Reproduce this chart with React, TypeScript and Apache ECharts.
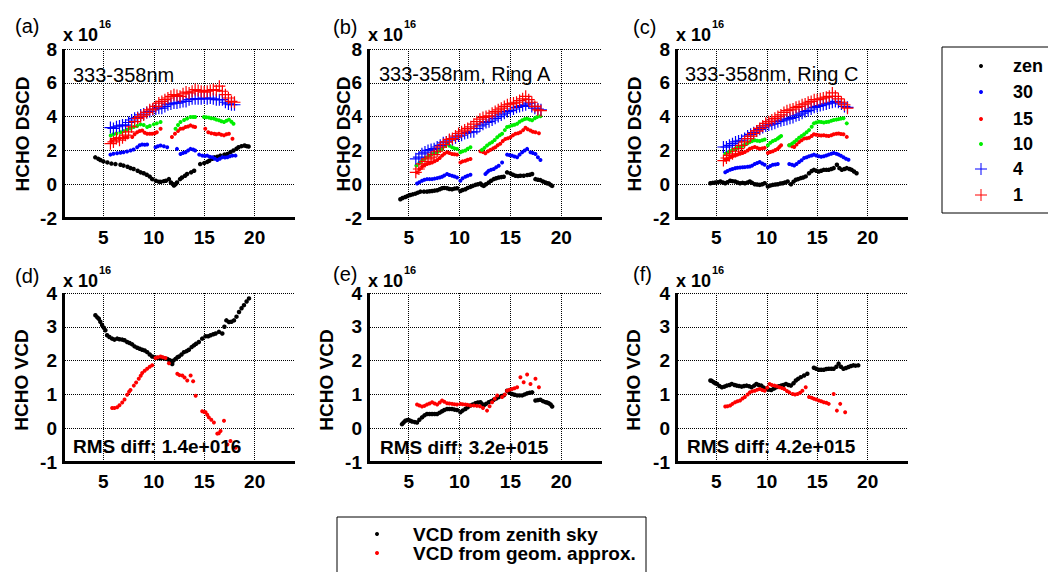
import React, { useEffect, useRef } from 'react';
import * as echarts from 'echarts';

// ---------- data (units of 1e16 molec/cm2, x = hour of day) ----------
const X_MIN = 1;
const X_MAX = 24;
const DSCD_MIN = -2, DSCD_MAX = 8, DSCD_STEP = 2;
const VCD_MIN = -1, VCD_MAX = 4, VCD_STEP = 1;

const legendNames = ['zen', '30', '15', '10', '4', '1'];
const vcdLegendNames = ['VCD from zenith sky', 'VCD from geom. approx.'];
const panelTags = ['(a)', '(b)', '(c)', '(d)', '(e)', '(f)'];
const dscdTitles = ['333-358nm', '333-358nm, Ring A', '333-358nm, Ring C'];
const rmsTexts = ['RMS diff: 1.4e+016', 'RMS diff: 3.2e+015', 'RMS diff: 4.2e+015'];

// panel (a)
const aZen = [[4.2,1.59],[4.5,1.5],[4.7,1.43],[5.0,1.35],[5.4,1.29],[5.8,1.22],[6.2,1.19],[6.7,1.15],[7.0,1.1],[7.4,1.03],[7.7,0.95],[8.0,0.9],[8.4,0.8],[8.7,0.7],[9.0,0.65],[9.3,0.56],[9.6,0.45],[9.85,0.3],[10.2,0.2],[10.5,0.15],[10.7,0.14],[11.0,0.18],[11.2,0.2],[11.5,0.3],[11.7,0.1],[11.85,0.02],[12.0,-0.08],[12.15,0.0],[12.3,0.1],[12.6,0.3],[12.8,0.4],[13.1,0.5],[13.3,0.6],[13.7,0.7],[14.0,0.8],[14.6,1.19],[15.0,1.25],[15.3,1.32],[15.5,1.39],[15.8,1.5],[16.0,1.59],[16.3,1.62],[16.6,1.69],[17.0,1.75],[17.3,1.79],[17.6,1.9],[17.9,1.99],[18.2,2.1],[18.4,2.19],[18.7,2.25],[19.0,2.29],[19.2,2.25],[19.4,2.23]];
const a30 = [[5.7,1.75],[6.0,1.8],[6.36,1.83],[6.7,1.86],[7.0,1.89],[7.35,1.93],[7.7,1.99],[8.0,2.05],[8.35,2.19],[8.6,2.3],[8.85,2.35],[9.1,2.33],[9.34,2.35],[10.17,2.19],[10.4,2.25],[10.67,2.29],[11.0,2.25],[11.33,2.19],[12.3,2.09],[12.65,1.79],[12.9,1.85],[13.15,1.89],[13.4,2.0],[13.64,2.09],[13.9,2.05],[14.1,1.99],[14.5,1.75],[14.8,1.69],[15.05,1.67],[15.3,1.69],[15.55,1.62],[15.8,1.59],[16.05,1.5],[16.3,1.43],[16.55,1.5],[16.8,1.59],[17.05,1.58],[17.3,1.59],[17.55,1.65],[17.8,1.69],[18.1,1.69]];
const a15 = [[5.8,2.55],[6.2,2.69],[6.6,2.72],[7.0,2.75],[7.4,2.77],[7.86,2.79],[8.1,2.95],[8.35,3.08],[8.6,3.15],[8.85,3.18],[9.1,3.05],[9.34,2.99],[9.6,2.98],[9.84,2.99],[10.1,3.02],[10.3,3.08],[10.67,3.28],[11.8,2.79],[12.1,2.99],[12.4,3.15],[12.65,3.28],[12.9,3.3],[13.15,3.38],[13.4,3.42],[13.64,3.48],[13.9,3.42],[14.1,3.38],[15.1,3.28],[15.4,3.08],[15.7,3.02],[16.0,2.99],[16.2,2.95],[16.46,2.99],[16.7,2.93],[16.96,2.89],[17.2,2.95],[17.45,2.99],[17.8,2.69]];
const a10 = [[5.73,2.88],[6.0,2.95],[6.3,3.0],[6.7,3.08],[7.0,3.15],[7.36,3.22],[7.7,3.3],[8.0,3.38],[8.35,3.45],[8.68,3.54],[9.0,3.5],[9.34,3.38],[9.6,3.45],[10.0,3.54],[10.3,3.6],[10.67,3.68],[12.16,3.28],[12.4,3.5],[12.65,3.68],[13.0,3.8],[13.3,3.88],[13.64,3.98],[13.9,3.98],[14.1,3.98],[14.97,3.98],[15.2,3.96],[15.47,3.94],[15.7,3.9],[15.97,3.88],[16.2,3.82],[16.46,3.78],[16.7,3.72],[16.96,3.68],[17.2,3.75],[17.45,3.82],[17.7,3.7],[17.9,3.58]];
const a4 = [[5.7,3.35],[6.0,3.3],[6.3,3.4],[6.6,3.45],[6.9,3.5],[7.2,3.5],[7.5,3.65],[7.8,3.8],[8.1,3.9],[8.4,3.95],[8.7,4.1],[9.0,4.15],[9.3,4.25],[9.6,4.3],[9.9,4.4],[10.2,4.45],[10.5,4.5],[10.8,4.5],[11.1,4.6],[11.4,4.7],[11.7,4.75],[12.0,4.8],[12.3,4.8],[12.6,4.85],[12.9,4.9],[13.2,4.9],[13.5,5.0],[13.8,5.05],[14.1,5.05],[14.4,5.05],[14.7,5.05],[15.0,5.1],[15.3,5.05],[15.6,5.1],[15.9,5.05],[16.2,5.0],[16.5,5.0],[16.8,5.0],[17.1,4.85],[17.4,4.75],[17.7,4.7],[18.0,4.7]];
const a1 = [[5.7,2.4],[6.0,2.5],[6.3,2.7],[6.6,2.6],[6.9,2.75],[7.2,2.9],[7.5,3.1],[7.8,3.4],[8.1,3.7],[8.4,3.9],[8.7,4.0],[9.0,4.1],[9.3,4.25],[9.6,4.4],[9.9,4.45],[10.2,4.6],[10.5,4.8],[10.8,4.9],[11.1,5.0],[11.4,5.1],[11.7,5.2],[12.0,5.3],[12.3,5.25],[12.6,5.2],[12.9,5.35],[13.2,5.45],[13.5,5.4],[13.8,5.5],[14.1,5.6],[14.4,5.55],[14.7,5.5],[15.0,5.45],[15.3,5.5],[15.6,5.55],[15.9,5.6],[16.2,5.55],[16.5,5.8],[16.8,5.5],[17.1,5.3],[17.4,5.1],[17.7,4.9],[18.0,4.85]];

// panel (b)
const bZen = [[4.18,-0.89],[4.4,-0.82],[4.67,-0.76],[4.9,-0.7],[5.16,-0.64],[5.4,-0.6],[5.66,-0.56],[5.9,-0.5],[6.15,-0.44],[6.5,-0.44],[6.8,-0.44],[7.05,-0.42],[7.3,-0.4],[7.55,-0.38],[7.8,-0.36],[8.05,-0.3],[8.28,-0.24],[8.5,-0.22],[8.77,-0.24],[9.0,-0.28],[9.26,-0.3],[9.5,-0.26],[9.75,-0.24],[10.08,-0.4],[10.3,-0.34],[10.57,-0.3],[10.8,-0.22],[11.07,-0.16],[11.3,-0.1],[11.56,-0.04],[11.8,0.0],[12.05,0.04],[12.2,-0.05],[12.38,-0.1],[12.6,0.0],[12.87,0.1],[13.1,0.2],[13.36,0.3],[13.6,0.35],[13.85,0.4],[14.1,0.42],[14.34,0.44],[14.67,0.7],[15.0,0.64],[15.25,0.56],[15.5,0.5],[15.75,0.48],[15.98,0.5],[16.3,0.5],[16.64,0.54],[16.9,0.56],[17.13,0.6],[17.46,0.3],[17.7,0.26],[17.95,0.24],[18.2,0.16],[18.44,0.1],[18.6,0.06],[18.77,0.04],[18.95,-0.04],[19.1,-0.1]];
const b30 = [[5.82,0.04],[6.05,0.12],[6.31,0.2],[6.55,0.26],[6.8,0.3],[7.05,0.3],[7.3,0.3],[7.55,0.33],[7.8,0.36],[8.05,0.4],[8.28,0.44],[8.5,0.52],[8.77,0.6],[9.0,0.55],[9.26,0.5],[9.5,0.45],[9.75,0.4],[10.08,0.2],[10.3,0.35],[10.57,0.44],[10.8,0.5],[11.07,0.56],[12.54,0.6],[12.7,0.7],[12.87,0.8],[13.1,0.85],[13.36,0.9],[13.6,1.0],[13.85,1.09],[14.18,1.29],[14.67,1.75],[14.9,1.72],[15.16,1.69],[15.4,1.64],[15.66,1.59],[15.9,1.75],[16.15,1.89],[16.4,2.0],[16.64,2.09],[16.97,1.89],[17.2,1.85],[17.46,1.79],[17.7,1.6],[17.95,1.43]];
const b15 = [[5.82,0.7],[6.05,0.88],[6.31,1.03],[6.55,1.12],[6.8,1.19],[7.05,1.24],[7.3,1.29],[7.55,1.36],[7.8,1.43],[8.05,1.55],[8.28,1.69],[8.5,1.8],[8.77,1.89],[9.0,1.85],[9.26,1.79],[9.5,1.77],[9.75,1.75],[10.08,1.29],[10.3,1.35],[10.57,1.39],[10.8,1.45],[11.07,1.49],[12.05,1.95],[12.3,1.9],[12.54,1.83],[12.8,1.95],[13.03,2.03],[13.3,2.12],[13.52,2.19],[13.75,2.3],[14.0,2.39],[14.25,2.55],[14.5,2.68],[14.75,2.72],[15.0,2.78],[15.25,2.9],[15.5,2.98],[15.75,3.02],[15.98,3.08],[16.25,3.2],[16.48,3.34],[16.7,3.25],[16.97,3.18],[17.2,3.1],[17.46,3.08],[17.8,3.02]];
const b10 = [[5.75,1.1],[6.05,1.25],[6.31,1.39],[6.55,1.5],[6.8,1.59],[7.05,1.7],[7.3,1.79],[7.55,1.85],[7.8,1.89],[8.05,2.0],[8.28,2.09],[8.5,2.25],[8.77,2.39],[9.0,2.28],[9.26,2.19],[9.5,2.12],[9.75,2.09],[10.08,1.89],[10.3,1.95],[10.57,1.99],[10.8,2.1],[11.07,2.19],[12.2,2.03],[12.45,2.15],[12.7,2.29],[12.95,2.4],[13.2,2.49],[13.45,2.62],[13.7,2.78],[13.95,2.9],[14.18,2.98],[14.45,3.2],[14.67,3.38],[14.9,3.42],[15.16,3.48],[15.4,3.52],[15.66,3.58],[15.9,3.7],[16.15,3.78],[16.4,3.85],[16.64,3.88],[16.9,3.82],[17.13,3.78],[17.4,3.9],[17.62,3.98],[17.95,4.02]];
const b4 = [[5.7,1.5],[6.0,1.6],[6.3,1.8],[6.6,1.9],[6.9,2.0],[7.2,2.05],[7.5,2.1],[7.8,2.2],[8.1,2.3],[8.4,2.45],[8.7,2.5],[9.0,2.6],[9.3,2.65],[9.6,2.75],[9.9,2.85],[10.2,2.9],[10.5,3.0],[10.8,3.05],[11.1,3.1],[11.4,3.1],[11.7,3.3],[12.0,3.45],[12.3,3.55],[12.6,3.65],[12.9,3.7],[13.2,3.8],[13.5,3.9],[13.8,4.0],[14.1,4.1],[14.4,4.2],[14.7,4.3],[15.0,4.35],[15.3,4.45],[15.6,4.55],[15.9,4.6],[16.2,4.65],[16.5,4.7],[16.8,4.8],[17.1,4.6],[17.4,4.5],[17.7,4.45],[18.0,4.4]];
const b1 = [[5.7,0.7],[6.0,0.9],[6.3,1.2],[6.6,1.35],[6.9,1.5],[7.2,1.6],[7.5,1.75],[7.8,1.95],[8.1,2.2],[8.4,2.35],[8.7,2.5],[9.0,2.65],[9.3,2.7],[9.6,2.85],[9.9,3.0],[10.2,3.1],[10.5,3.2],[10.8,3.3],[11.1,3.4],[11.4,3.55],[11.7,3.7],[12.0,3.85],[12.3,3.95],[12.6,4.0],[12.9,4.05],[13.2,4.2],[13.5,4.3],[13.8,4.4],[14.1,4.5],[14.4,4.6],[14.7,4.7],[15.0,4.75],[15.3,4.8],[15.6,4.85],[15.9,4.95],[16.2,5.05],[16.5,5.2],[16.8,5.0],[17.1,4.85],[17.4,4.6],[17.7,4.4],[18.0,4.35]];

// panel (c)
const cZen = [[4.41,0.06],[4.65,0.08],[4.9,0.1],[5.15,0.12],[5.4,0.16],[5.65,0.1],[5.88,0.06],[6.1,0.12],[6.37,0.2],[6.6,0.18],[6.86,0.16],[7.1,0.1],[7.35,0.06],[7.6,0.08],[7.83,0.06],[8.1,0.1],[8.32,0.16],[8.55,0.08],[8.81,0.0],[9.05,-0.02],[9.3,-0.04],[9.55,0.0],[9.79,0.06],[10.11,-0.14],[10.35,-0.08],[10.6,-0.04],[10.85,-0.02],[11.09,0.0],[11.35,0.04],[11.58,0.06],[11.8,0.1],[12.07,0.16],[12.4,0.0],[12.65,0.15],[12.88,0.26],[13.1,0.3],[13.37,0.36],[13.6,0.4],[13.86,0.46],[14.19,0.65],[14.45,0.78],[14.67,0.85],[14.9,0.8],[15.16,0.75],[15.4,0.8],[15.65,0.85],[15.9,0.85],[16.14,0.85],[16.4,0.9],[16.63,0.95],[16.95,1.15],[17.2,0.95],[17.44,0.85],[17.7,0.9],[17.93,0.95],[18.2,0.9],[18.42,0.85],[18.65,0.75],[18.9,0.65]];
const c30 = [[5.88,0.71],[6.1,0.78],[6.37,0.85],[6.6,0.9],[6.86,0.95],[7.1,0.97],[7.35,0.99],[7.6,1.0],[7.83,1.01],[8.1,1.03],[8.32,1.05],[8.55,1.1],[8.81,1.19],[9.05,1.25],[9.3,1.31],[9.55,1.22],[9.79,1.15],[10.11,0.99],[10.35,1.08],[10.6,1.15],[10.85,1.17],[11.09,1.19],[12.23,1.19],[12.5,1.15],[12.72,1.11],[12.95,1.2],[13.2,1.31],[13.45,1.42],[13.7,1.55],[13.95,1.6],[14.19,1.65],[14.45,1.7],[14.67,1.75],[14.9,1.7],[15.16,1.65],[15.4,1.63],[15.65,1.65],[15.9,1.7],[16.14,1.75],[16.4,1.8],[16.63,1.85],[16.9,1.8],[17.12,1.75],[17.35,1.68],[17.6,1.59],[17.85,1.5],[18.1,1.45]];
const c15 = [[5.88,1.45],[6.1,1.52],[6.37,1.6],[6.6,1.65],[6.86,1.7],[7.1,1.75],[7.35,1.8],[7.6,1.85],[7.83,1.9],[8.1,2.0],[8.32,2.1],[8.55,2.15],[8.81,2.2],[9.05,2.15],[9.3,2.1],[9.55,2.12],[9.79,2.15],[10.11,1.85],[10.35,1.9],[10.6,1.95],[10.85,2.02],[11.09,2.1],[11.25,2.2],[11.42,2.3],[12.23,2.3],[12.5,2.25],[12.72,2.2],[12.95,2.35],[13.2,2.5],[13.45,2.6],[13.7,2.7],[13.95,2.72],[14.19,2.75],[14.45,2.85],[14.67,2.95],[14.9,2.92],[15.16,2.9],[15.4,2.88],[15.65,2.9],[15.9,2.87],[16.14,2.85],[16.4,2.9],[16.63,2.95],[16.9,2.98],[17.12,3.0],[17.35,2.97],[17.6,2.95],[17.93,2.8]];
const c10 = [[5.88,1.8],[6.1,1.88],[6.37,1.95],[6.6,2.02],[6.86,2.1],[7.1,2.15],[7.35,2.2],[7.6,2.28],[7.83,2.35],[8.1,2.42],[8.32,2.5],[8.55,2.55],[8.81,2.6],[9.05,2.57],[9.3,2.55],[9.55,2.6],[9.79,2.65],[10.11,2.3],[10.35,2.45],[10.6,2.55],[10.85,2.62],[11.09,2.7],[11.25,2.78],[11.42,2.85],[12.23,2.3],[12.5,2.4],[12.72,2.5],[12.95,2.62],[13.2,2.75],[13.45,2.85],[13.7,2.95],[13.95,3.08],[14.19,3.2],[14.45,3.4],[14.67,3.6],[14.9,3.65],[15.16,3.7],[15.4,3.68],[15.65,3.65],[15.9,3.68],[16.14,3.7],[16.4,3.75],[16.63,3.8],[16.9,3.82],[17.12,3.85],[17.35,3.88],[17.6,3.9],[17.93,3.6]];
const c4 = [[5.7,2.2],[6.0,2.2],[6.3,2.3],[6.6,2.4],[6.9,2.5],[7.2,2.55],[7.5,2.6],[7.8,2.7],[8.1,2.85],[8.4,2.95],[8.7,3.05],[9.0,3.15],[9.3,3.25],[9.6,3.35],[9.9,3.45],[10.2,3.5],[10.5,3.55],[10.8,3.6],[11.1,3.7],[11.4,3.75],[11.7,3.8],[12.0,3.85],[12.3,3.9],[12.6,3.95],[12.9,4.05],[13.2,4.1],[13.5,4.2],[13.8,4.3],[14.1,4.35],[14.4,4.45],[14.7,4.55],[15.0,4.6],[15.3,4.65],[15.6,4.7],[15.9,4.75],[16.2,4.8],[16.5,4.85],[16.8,4.9],[17.1,4.85],[17.4,4.75],[17.7,4.6],[18.0,4.55]];
const c1 = [[5.7,1.4],[6.0,1.55],[6.3,1.7],[6.6,1.8],[6.9,1.95],[7.2,2.1],[7.5,2.3],[7.8,2.5],[8.1,2.7],[8.4,2.85],[8.7,3.0],[9.0,3.15],[9.3,3.3],[9.6,3.45],[9.9,3.6],[10.2,3.7],[10.5,3.8],[10.8,3.9],[11.1,4.0],[11.4,4.1],[11.7,4.25],[12.0,4.35],[12.3,4.4],[12.6,4.45],[12.9,4.55],[13.2,4.6],[13.5,4.7],[13.8,4.75],[14.1,4.85],[14.4,4.9],[14.7,5.0],[15.0,5.0],[15.3,5.05],[15.6,5.1],[15.9,5.15],[16.2,5.2],[16.5,5.4],[16.8,5.2],[17.1,5.05],[17.4,4.85],[17.7,4.7],[18.0,4.5]];

// panel (d)
const dZen = [[4.21,3.34],[4.4,3.28],[4.55,3.24],[4.7,3.15],[4.87,3.05],[5.05,2.97],[5.2,2.9],[5.37,2.75],[5.6,2.7],[5.87,2.65],[6.1,2.62],[6.37,2.65],[6.6,2.63],[6.87,2.62],[7.1,2.6],[7.36,2.55],[7.6,2.52],[7.86,2.48],[8.1,2.42],[8.36,2.38],[8.6,2.35],[8.85,2.32],[9.1,2.3],[9.35,2.25],[9.6,2.18],[9.84,2.12],[10.1,2.1],[10.34,2.08],[10.6,2.07],[10.83,2.08],[11.1,2.06],[11.33,2.05],[11.5,2.02],[11.66,2.0],[11.75,1.95],[11.83,1.9],[11.95,2.0],[12.16,2.05],[12.35,2.1],[12.5,2.12],[12.75,2.18],[12.99,2.25],[13.25,2.28],[13.48,2.32],[13.75,2.4],[13.98,2.45],[14.2,2.5],[14.47,2.55],[14.8,2.65],[15.13,2.72],[15.4,2.72],[15.63,2.75],[15.9,2.78],[16.13,2.8],[16.46,2.85],[16.79,2.8],[17.0,3.0],[17.2,3.19],[17.45,3.14],[17.7,3.15],[17.95,3.19],[18.2,3.3],[18.45,3.44],[18.7,3.55],[18.94,3.64],[19.2,3.75],[19.44,3.84]];
const dGeo = [[5.87,0.6],[6.1,0.6],[6.37,0.62],[6.6,0.68],[6.87,0.76],[7.1,0.85],[7.36,0.99],[7.55,1.08],[7.69,1.13],[8.02,1.26],[8.25,1.35],[8.51,1.46],[8.7,1.55],[8.85,1.63],[9.1,1.7],[9.34,1.76],[9.6,1.82],[9.84,1.86],[10.17,2.08],[10.4,2.1],[10.67,2.12],[10.9,2.1],[11.16,2.08],[11.5,1.92],[12.33,1.61],[12.55,1.57],[12.83,1.56],[13.05,1.5],[13.32,1.41],[13.65,1.56],[13.9,1.39],[14.15,0.96],[14.8,0.5],[15.0,0.48],[15.13,0.47],[15.3,0.4],[15.46,0.32],[15.7,0.25],[15.96,0.17],[16.29,-0.16],[16.45,-0.15],[16.62,-0.08],[16.96,0.22],[17.3,-0.48],[17.6,-0.38],[18.1,-0.58]];

// panel (e)
const eZen = [[4.34,0.12],[4.5,0.17],[4.67,0.22],[4.85,0.24],[5.0,0.24],[5.15,0.22],[5.33,0.2],[5.6,0.18],[5.82,0.17],[6.05,0.25],[6.31,0.32],[6.55,0.38],[6.8,0.42],[7.05,0.42],[7.3,0.42],[7.55,0.42],[7.8,0.42],[8.05,0.46],[8.28,0.5],[8.5,0.54],[8.77,0.57],[9.0,0.57],[9.26,0.57],[9.5,0.55],[9.75,0.54],[10.08,0.47],[10.3,0.52],[10.57,0.57],[10.8,0.62],[11.07,0.67],[11.3,0.7],[11.56,0.74],[11.8,0.76],[12.05,0.77],[12.2,0.72],[12.38,0.67],[12.6,0.72],[12.87,0.77],[13.1,0.8],[13.36,0.84],[13.6,0.88],[13.85,0.92],[14.1,0.95],[14.34,0.97],[14.67,1.11],[14.9,1.05],[15.16,1.01],[15.4,0.99],[15.66,0.97],[15.9,0.97],[16.15,0.97],[16.4,1.0],[16.64,1.03],[16.9,1.05],[17.13,1.06],[17.46,0.82],[17.7,0.83],[17.95,0.84],[18.2,0.8],[18.44,0.77],[18.6,0.76],[18.77,0.74],[18.95,0.7],[19.1,0.64]];
const eGeo = [[5.82,0.7],[6.05,0.67],[6.31,0.64],[6.55,0.66],[6.8,0.7],[7.05,0.73],[7.3,0.77],[7.55,0.73],[7.8,0.7],[8.05,0.76],[8.28,0.82],[8.5,0.78],[8.77,0.74],[9.0,0.73],[9.26,0.72],[9.5,0.71],[9.75,0.7],[10.08,0.72],[10.3,0.71],[10.57,0.7],[10.8,0.69],[11.07,0.67],[11.4,0.67],[11.7,0.66],[12.0,0.65],[12.3,0.6],[12.7,0.52],[12.95,0.65],[13.2,0.77],[13.45,0.87],[13.7,0.97],[14.18,0.92],[14.45,1.0],[14.67,1.11],[14.9,1.14],[15.16,1.16],[15.4,1.18],[15.66,1.21],[15.98,1.51],[16.3,1.36],[16.64,1.59],[16.97,1.31],[17.46,1.46],[17.8,1.21]];

// panel (f)
const fZen = [[4.41,1.41],[4.55,1.4],[4.74,1.36],[4.9,1.33],[5.07,1.31],[5.3,1.25],[5.55,1.21],[5.8,1.23],[6.04,1.26],[6.3,1.28],[6.53,1.31],[6.8,1.28],[7.02,1.26],[7.25,1.25],[7.51,1.23],[7.75,1.25],[8.0,1.26],[8.25,1.24],[8.49,1.21],[8.75,1.26],[8.97,1.31],[9.2,1.28],[9.46,1.26],[9.7,1.2],[9.95,1.16],[10.2,1.14],[10.44,1.13],[10.7,1.17],[10.93,1.21],[11.2,1.24],[11.42,1.26],[11.65,1.28],[11.9,1.31],[12.15,1.28],[12.39,1.26],[12.65,1.33],[12.88,1.41],[13.1,1.46],[13.37,1.51],[13.7,1.56],[14.02,1.61],[14.67,1.79],[14.9,1.76],[15.16,1.73],[15.4,1.73],[15.65,1.73],[15.9,1.75],[16.14,1.76],[16.4,1.76],[16.63,1.76],[16.9,1.82],[17.12,1.91],[17.35,1.82],[17.6,1.76],[17.85,1.78],[18.1,1.81],[18.35,1.84],[18.58,1.86],[18.8,1.85],[19.07,1.86]];
const fGeo = [[5.88,0.64],[6.1,0.65],[6.37,0.67],[6.6,0.72],[6.86,0.77],[7.1,0.8],[7.35,0.82],[7.6,0.88],[7.83,0.92],[8.1,1.0],[8.32,1.06],[8.55,1.09],[8.81,1.11],[9.05,1.14],[9.3,1.16],[9.55,1.13],[9.79,1.11],[10.05,1.2],[10.28,1.31],[10.5,1.28],[10.77,1.26],[11.0,1.24],[11.25,1.21],[11.5,1.19],[11.74,1.16],[12.0,1.1],[12.23,1.06],[12.56,1.01],[12.8,1.0],[13.05,1.01],[13.3,1.05],[13.53,1.11],[13.86,1.21],[14.19,0.92],[14.45,0.9],[14.67,0.87],[14.9,0.85],[15.16,0.82],[15.4,0.8],[15.65,0.77],[15.9,0.75],[16.14,0.72],[16.63,1.01],[16.95,0.52],[17.28,0.72],[17.77,0.47]];

// ---------- styling / layout ----------
const FONT = '"Liberation Sans", Arial, Helvetica, sans-serif';
const PLUS = 'path://M4.5,0h1v10h-1zM0,4.5h10v1h-10z';
const BLACK = '#000000';
const BLUE = '#0000ff';
const RED = '#ff0000';
const GREEN = '#00ee00';

const gridBoxes = [
  { left: 63, top: 49, width: 232, height: 169 },
  { left: 368, top: 49, width: 234, height: 169 },
  { left: 676, top: 49, width: 232, height: 169 },
  { left: 63, top: 293, width: 232, height: 169 },
  { left: 368, top: 293, width: 234, height: 169 },
  { left: 676, top: 293, width: 232, height: 169 },
];

const dscdPanels = [
  [aZen, a30, a15, a10, a4, a1],
  [bZen, b30, b15, b10, b4, b1],
  [cZen, c30, c15, c10, c4, c1],
];
const vcdPanels = [
  [dZen, dGeo],
  [eZen, eGeo],
  [fZen, fGeo],
];

const dscdStyles = [
  { color: BLACK, symbol: 'circle', size: 4.5 },
  { color: BLUE, symbol: 'circle', size: 4 },
  { color: RED, symbol: 'circle', size: 4 },
  { color: GREEN, symbol: 'circle', size: 4 },
  { color: BLUE, symbol: PLUS, size: 12 },
  { color: RED, symbol: PLUS, size: 12 },
];
const vcdStyles = [
  { color: BLACK, symbol: 'circle', size: 4.5 },
  { color: RED, symbol: 'circle', size: 4 },
];

function buildOption() {
  const labelStyle = { color: '#000', fontSize: 19, fontWeight: 'bold', fontFamily: FONT };
  const gridLine = () => ({ show: true, showMinLine: false, showMaxLine: false, lineStyle: { color: '#000', width: 1, type: 'dotted', opacity: 1 } });
  const grid = gridBoxes.map((g) => ({ ...g, containLabel: false, show: false }));
  const xAxis = gridBoxes.map((_, i) => ({
    type: 'value',
    gridIndex: i,
    position: 'bottom',
    min: X_MIN,
    max: X_MAX,
    splitNumber: 5,
    axisLine: { show: false, onZero: false },
    axisTick: { show: false },
    axisLabel: { ...labelStyle, margin: 10, showMinLabel: false, showMaxLabel: false },
    splitLine: gridLine(),
  }));
  const yAxis = gridBoxes.map((_, i) => {
    const top = i < 3;
    return {
      type: 'value',
      gridIndex: i,
      position: 'left',
      min: top ? DSCD_MIN : VCD_MIN,
      max: top ? DSCD_MAX : VCD_MAX,
      interval: top ? DSCD_STEP : VCD_STEP,
      axisLine: { show: false, onZero: false },
      axisTick: { show: false },
      axisLabel: { ...labelStyle, margin: 6 },
      splitLine: { ...gridLine(), showMaxLine: true },
    };
  });

  const series: any[] = [];
  dscdPanels.forEach((panel, p) => {
    panel.forEach((data, k) => {
      const st = dscdStyles[k];
      series.push({
        type: 'scatter',
        name: legendNames[k],
        xAxisIndex: p,
        yAxisIndex: p,
        data,
        symbol: st.symbol,
        symbolSize: st.size,
        itemStyle: { color: st.color, opacity: 1 },
        z: 2 + k,
        silent: true,
      });
    });
  });
  vcdPanels.forEach((panel, p) => {
    panel.forEach((data, k) => {
      const st = vcdStyles[k];
      series.push({
        type: 'scatter',
        name: vcdLegendNames[k],
        xAxisIndex: 3 + p,
        yAxisIndex: 3 + p,
        data,
        symbol: st.symbol,
        symbolSize: st.size,
        itemStyle: { color: st.color, opacity: 1 },
        z: 2 + k,
        silent: true,
      });
    });
  });

  const g: any[] = [];
  const txt = (text: string, x: number, y: number, font: string, extra: any = {}) => ({
    type: 'text',
    x,
    y,
    silent: true,
    z: 100,
    ...extra,
    style: { text, fill: '#000', font, textAlign: 'left', textVerticalAlign: 'middle', ...(extra.style || {}) },
  });

  const tagPos = [[15, 26], [333, 27], [633, 27], [15, 276], [333, 274], [633, 274]];
  panelTags.forEach((t, i) => g.push(txt(t, tagPos[i][0], tagPos[i][1], `20px ${FONT}`)));
  gridBoxes.forEach((b, i) => {
    const yBase = i < 3 ? 35 : 281;
    g.push(txt('x 10', b.left, yBase, `bold 18px ${FONT}`));
    g.push(txt('16', b.left + 36, yBase - 11, `bold 11px ${FONT}`));
  });

  const titlePos = [[73, 75], [379, 74], [685, 74]];
  dscdTitles.forEach((t, i) => g.push(txt(t, titlePos[i][0], titlePos[i][1], `20px ${FONT}`)));
  const rmsPos = [[73, 446], [380, 447], [687, 446]];
  rmsTexts.forEach((t, i) => g.push(txt(t, rmsPos[i][0], rmsPos[i][1], `bold 19px ${FONT}`)));

  const dscdNamePos = [[22, 134], [343, 134], [634, 134]];
  const vcdNamePos = [[21, 380], [326, 380], [633, 380]];
  dscdNamePos.forEach(([x, y]) =>
    g.push(txt('HCHO DSCD', x, y, `bold 19px ${FONT}`, { rotation: Math.PI / 2, style: { textAlign: 'center' } }))
  );
  vcdNamePos.forEach(([x, y]) =>
    g.push(txt('HCHO VCD', x, y, `bold 19px ${FONT}`, { rotation: Math.PI / 2, style: { textAlign: 'center' } }))
  );

  // thick left + bottom frame of each plot box, built from three 1px strokes each
  gridBoxes.forEach((b) => {
    const bottom = b.top + b.height;
    [-1, 0, 1].forEach((d) => {
      g.push({
        type: 'line', silent: true, z: 100,
        shape: { x1: b.left + d + 0.5, y1: b.top, x2: b.left + d + 0.5, y2: bottom + 2 },
        style: { stroke: '#000', lineWidth: 1 },
      });
      g.push({
        type: 'line', silent: true, z: 100,
        shape: { x1: b.left - 1, y1: bottom + d + 0.5, x2: b.left + b.width, y2: bottom + d + 0.5 },
        style: { stroke: '#000', lineWidth: 1 },
      });
    });
  });

  g.push({
    type: 'rect', silent: true, z: 90,
    shape: { x: 942, y: 47, width: 140, height: 166 },
    style: { fill: '#fff', stroke: '#000', lineWidth: 1 },
  });
  const legY = [66, 92, 119, 144, 169, 195];
  legendNames.forEach((name, k) => {
    const st = dscdStyles[k];
    const y = legY[k];
    if (st.symbol === 'circle') {
      g.push({ type: 'circle', silent: true, z: 100, shape: { cx: 981, cy: y, r: 2 }, style: { fill: st.color } });
    } else {
      g.push({ type: 'line', silent: true, z: 100, shape: { x1: 975, y1: y, x2: 987, y2: y }, style: { stroke: st.color, lineWidth: 1 } });
      g.push({ type: 'line', silent: true, z: 100, shape: { x1: 981, y1: y - 6, x2: 981, y2: y + 6 }, style: { stroke: st.color, lineWidth: 1 } });
    }
    g.push(txt(name, 1013, y, `bold 18px ${FONT}`));
  });

  g.push({
    type: 'rect', silent: true, z: 90,
    shape: { x: 337, y: 517, width: 309, height: 80 },
    style: { fill: '#fff', stroke: '#000', lineWidth: 1 },
  });
  const bY = [534, 553];
  vcdLegendNames.forEach((name, k) => {
    g.push({ type: 'circle', silent: true, z: 100, shape: { cx: 377, cy: bY[k], r: 2 }, style: { fill: vcdStyles[k].color } });
    g.push(txt(name, 413, bY[k], `bold 19px ${FONT}`));
  });

  return {
    animation: false,
    backgroundColor: '#ffffff',
    textStyle: { fontFamily: FONT },
    grid,
    xAxis,
    yAxis,
    series,
    graphic: { elements: g },
  };
}

export default function App() {
  const ref = useRef<HTMLDivElement>(null);
  useEffect(() => {
    if (!ref.current) return;
    const chart = echarts.init(ref.current, undefined, { renderer: 'svg' });
    chart.setOption(buildOption() as any);
    return () => chart.dispose();
  }, []);
  return (
    <div
      ref={ref}
      style={{ position: 'absolute', left: 0, top: 0, width: 1048, height: 572, background: '#fff' }}
    />
  );
}
